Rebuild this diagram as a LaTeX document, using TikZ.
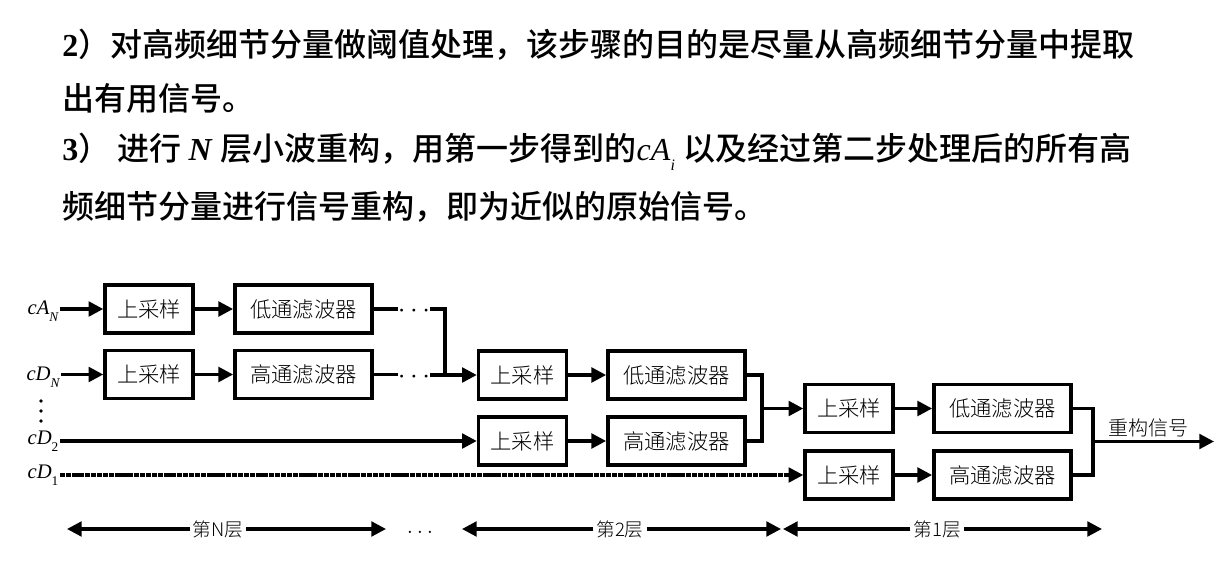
\documentclass[tikz,border=0pt]{standalone}
\usepackage{fontspec}
\setmainfont{Liberation Serif}
\newfontfamily\cjk{Noto Sans CJK SC Medium}
\newfontfamily\cjkl{Noto Sans CJK SC Light}
\newcommand\mysub[1]{\raisebox{-0.35em}{\fontsize{10}{10}\selectfont #1}}
\usetikzlibrary{arrows.meta}
\begin{document}
\begin{tikzpicture}[x=0.75pt,y=-0.75pt,
  box/.style={draw,line width=2.6pt,minimum height=36pt,inner sep=0pt,font=\cjkl\fontsize{16}{16}\selectfont},
  sbox/.style={box,minimum width=66pt},
  lbox/.style={box,minimum width=103pt},
  con/.style={line width=2.4pt},
  arr/.style={con,-{Triangle[length=11pt,width=11pt]}},
  sig/.style={font=\itshape\fontsize{15.5}{15.5}\selectfont,inner sep=1pt},
  body/.style={anchor=west,inner sep=0pt,font=\fontsize{24}{24}\selectfont},
  dots/.style={inner sep=0pt,font=\bfseries\fontsize{22}{22}\selectfont},
  lay/.style={inner sep=2pt,font=\cjkl\fontsize{14}{14}\selectfont}]
\useasboundingbox (0,0) rectangle (1222,578);
% body text
\node[body] (t1) at (62,45) {\textbf{2}{\cjk ）对高频细节分量做阈值处理，该步骤的目的是尽量从高频细节分量中提取}};
\node[body] (t2) at (62,98) {{\cjk 出有用信号。}};
\node[body] (t3) at (62,152) {\textbf{3}{\cjk ） 进行 }\textbf{\textit{N}} {\cjk 层小波重构，用第一步得到的}\textit{cA}\raisebox{-0.3em}{\fontsize{12}{12}\selectfont\itshape i} {\cjk 以及经过第二步处理后的所有高}};
\node[body] (t4) at (62,207) {{\cjk 频细节分量进行信号重构，即为近似的原始信号。}};
% signals
\node[sig] (cAN) at (43,311) {cA\mysub{N}};
\node[sig] (cDN) at (43,377) {cD\mysub{N}};
\node[sig] (cD2) at (43,441) {cD\mysub{\upshape 2}};
\node[sig] (cD1) at (43,475) {cD\mysub{\upshape 1}};
\foreach \yy in {401,411,421} \fill (41,\yy) circle (1.4pt);
% level N
\node[sbox] (A1) at (149,309) {上采样};
\node[lbox] (A2) at (303.5,309) {低通滤波器};
\node[sbox] (B1) at (149,374.5) {上采样};
\node[lbox] (B2) at (303.5,374.5) {高通滤波器};
\node[dots] (dA) at (414,311.5) {$\cdots$};
\node[dots] (dB) at (414,377) {$\cdots$};
% level 2
\node[sbox] (C1) at (522.5,375) {上采样};
\node[lbox] (C2) at (676.5,375) {低通滤波器};
\node[sbox] (D1) at (522.5,441) {上采样};
\node[lbox] (D2) at (676.5,441) {高通滤波器};
% level 1
\node[sbox] (E1) at (849,408.5) {上采样};
\node[lbox] (E2) at (1002.5,408.5) {低通滤波器};
\node[sbox] (F1) at (849,475) {上采样};
\node[lbox] (F2) at (1002.5,475) {高通滤波器};
% connectors level N
\draw[arr] (cAN.east |- A1) -- (A1.west);
\draw[arr] (A1) -- (A2);
\draw[arr] (cDN.east |- B1) -- (B1.west);
\draw[arr] (B1) -- (B2);
\coordinate (J) at (445,375);
\draw[con] (A2.east) -- (dA.west |- A2);
\draw[con] (dA.east |- A2) -| (J);
\draw[con] (B2.east) -- (dB.west |- B2);
\draw[arr] (dB.east |- C1) -- (C1.west);
% level 2
\draw[arr] (C1) -- (C2);
\draw[arr] (D1) -- (D2);
\draw[arr] (cD2.east |- D1) -- (D1.west);
\coordinate (K) at (762,408.5);
\draw[con] (C2.east) -| (K);
\draw[con] (D2.east) -| (K);
\draw[arr] (K) -- (E1.west);
% level 1
\draw[arr,dash pattern=on 4pt off 0.6pt] (cD1.east |- F1) -- (F1.west);
\draw[arr] (E1) -- (E2);
\draw[arr] (F1) -- (F2);
\coordinate (M) at (1093,441.5);
\coordinate (out) at (1214,441.5);
\draw[con] (E2.east) -| (M);
\draw[con] (F2.east) -| (M);
\draw[arr] (M) -- (out);
\node[inner sep=0pt,font=\cjkl\fontsize{15}{15}\selectfont] (rs) at (1148,428) {重构信号};
% layers
\node[lay] (LN) at (218,529) {第N层};
\coordinate (LNa) at (67,529); \coordinate (LNb) at (386,529);
\draw[arr] (LN.west) -- (LNa); \draw[arr] (LN.east) -- (LNb);
\node[dots,font=\fontsize{16}{16}\selectfont] (ld) at (420,532) {$\ldots$};
\node[lay] (L2) at (620,529) {第2层};
\coordinate (L2a) at (462,529); \coordinate (L2b) at (781,529);
\draw[arr] (L2.west) -- (L2a); \draw[arr] (L2.east) -- (L2b);
\node[lay] (L1) at (937,529) {第1层};
\coordinate (L1a) at (783,529); \coordinate (L1b) at (1102,529);
\draw[arr] (L1.west) -- (L1a); \draw[arr] (L1.east) -- (L1b);
\end{tikzpicture}
\end{document}
